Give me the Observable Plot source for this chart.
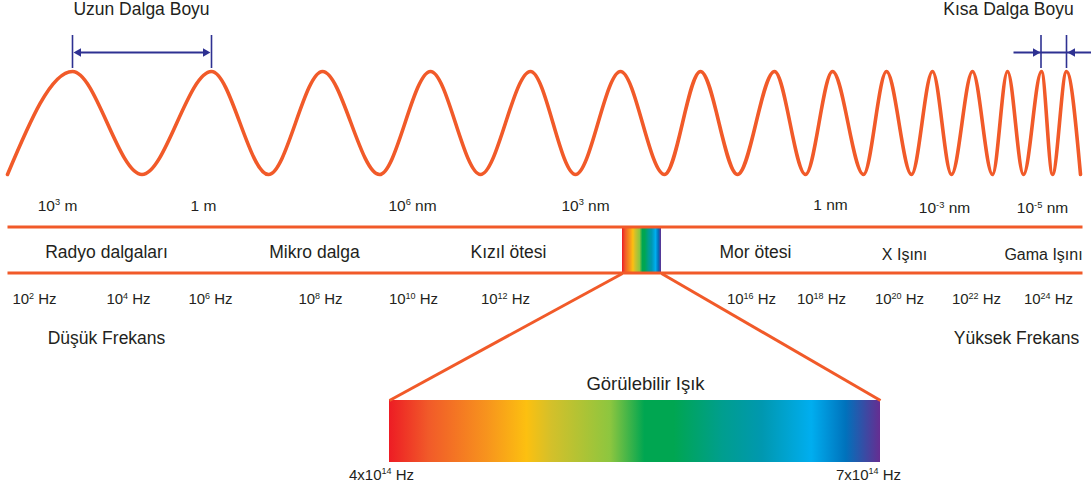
<!DOCTYPE html>
<html>
<head>
<meta charset="utf-8">
<script src="https://cdn.jsdelivr.net/npm/d3@7"></script>
<script src="https://cdn.jsdelivr.net/npm/@observablehq/plot@0.6"></script>
<style>
  html, body { margin: 0; padding: 0; background: #fff; }
  svg { display: block; }
</style>
</head>
<body>
<div id="chart"></div>
<script>
// ---------- data (diagram units) ----------
// wave extrema along the diagram (trough, crest, trough, ...)
const waveExtremaX = [7, 72, 141.5, 211, 268, 322, 379, 430, 480, 530, 575, 620, 664, 700, 737, 774, 805, 832, 863, 886, 911, 932, 951, 972, 992, 1007, 1023, 1041, 1052, 1066, 1080];
const crestY = 71, troughY = 174;

const headings = ["Uzun Dalga Boyu", "Kısa Dalga Boyu"];
const headingX = [141, 1008];

// "^" marks a superscript (rendered as a raised tspan)
const wavelengthLabels = ["10^3 m", "1 m", "10^6 nm", "10^3 nm", "1 nm", "10^-3 nm", "10^-5 nm"];
const wavelengthX = [57, 203, 412, 585, 830, 944, 1042];
const wavelengthY = [205.7, 205.2, 205.2, 205.2, 205, 208, 208];

const bandNames = ["Radyo dalgaları", "Mikro dalga", "Kızıl ötesi", "Mor ötesi", "X Işını", "Gama Işını"];
const bandX = [106, 314, 508, 755, 904, 1043];
const bandY = [251.7, 251.7, 251.7, 251.7, 254.5, 254.5];
const bandSize = [17.5, 17.5, 17.5, 17.5, 16, 16];

const freqExponents = ["2", "4", "6", "8", "10", "12", "16", "18", "20", "22", "24"];
const freqX = [34, 128, 210, 320, 413, 505, 751, 821, 899, 976, 1048];

const endLabels = ["Düşük Frekans", "Yüksek Frekans"];
const endX = [106, 1016];

const visibleTitle = "Görülebilir Işık";
const visibleEnds = ["4x10^14 Hz", "7x10^14 Hz"];
const visibleEndX = [381, 868];

const spectrumOffsets = [0, 0.08, 0.2, 0.28, 0.33, 0.45, 0.52, 0.58, 0.68, 0.76, 0.86, 0.93, 1];
const spectrumColors = ["#ed1c24", "#f15a29", "#f7941d", "#fcc010", "#d4c02a", "#8dc63f", "#00a651", "#00a651", "#009e8f", "#0098b0", "#00aeef", "#0072bc", "#662d91"];

// ---------- derived tables ----------
const ORANGE = "#f15a29", BLUE = "#2e3192", INK = "#231f20";

const wave = waveExtremaX.map((x, i) => ({x, y: i % 2 ? crestY : troughY}));
const headingData = headings.map((t, i) => ({t, x: headingX[i]}));
const wlData = wavelengthLabels.map((t, i) => ({t, x: wavelengthX[i], y: wavelengthY[i]}));
const bandData = bandNames.map((t, i) => ({t, x: bandX[i], y: bandY[i], s: bandSize[i]}));
const freqData = freqExponents.map((e, i) => ({t: "10^" + e + " Hz", x: freqX[i]}));
const endData = endLabels.map((t, i) => ({t, x: endX[i]}));
const visEndData = visibleEnds.map((t, i) => ({t, x: visibleEndX[i]}));

const markerX = [72, 211, 1040.5, 1066];
const arrowLines = [{x1: 76, x2: 207}, {x1: 1013, x2: 1090.5}];
const arrowHeads = [{x: 78, r: -90}, {x: 205, r: 90}, {x: 1035, r: 90}, {x: 1072, r: -90}];

const bands = [{x1: 7, x2: 1082, y: 226.5}, {x1: 7, x2: 1082, y: 272.5}];
const spectrumBoxes = [{x1: 622, x2: 661, y1: 227, y2: 272}, {x1: 389, x2: 880, y1: 400, y2: 462}];
const zoomLines = [{x1: 622, y1: 273, x2: 389, y2: 400}, {x1: 661, y1: 273, x2: 880, y2: 400}];

const font = "'Liberation Sans', Arial, Helvetica, sans-serif";

const svg = Plot.plot({
  width: 1091,
  height: 487,
  margin: 0,
  x: {domain: [0, 1091], range: [0, 1091], axis: null},
  y: {domain: [0, 487], range: [0, 487], axis: null},
  style: {background: "#fff", fontFamily: font, color: INK},
  marks: [
    Plot.line(wave, {x: "x", y: "y", curve: "monotone-x", stroke: ORANGE, strokeWidth: 3.6, strokeLinecap: "round"}),
    Plot.ruleX(markerX, {x: d => d, y1: 35, y2: 68, stroke: BLUE, strokeWidth: 1.6}),
    Plot.link(arrowLines, {x1: "x1", x2: "x2", y1: 52, y2: 52, stroke: BLUE, strokeWidth: 1.8}),
    Plot.dot(arrowHeads, {x: "x", y: 52, symbol: "triangle", r: 3.2, rotate: "r", fill: BLUE, stroke: null}),
    Plot.rect(spectrumBoxes, {x1: "x1", x2: "x2", y1: "y1", y2: "y2", fill: "url(#spectrum)"}),
    Plot.link(bands, {x1: "x1", x2: "x2", y1: "y", y2: "y", stroke: ORANGE, strokeWidth: 3}),
    Plot.link(zoomLines, {x1: "x1", y1: "y1", x2: "x2", y2: "y2", stroke: ORANGE, strokeWidth: 3}),
    Plot.text(headingData, {x: "x", y: 9, text: "t", fontSize: 17.5, fill: INK}),
    Plot.text(wlData, {x: "x", y: "y", text: "t", fontSize: 15.5, fill: INK}),
    Plot.text(bandData, {x: "x", y: "y", text: "t", fontSize: "s", fill: INK}),
    Plot.text(freqData, {x: "x", y: 299, text: "t", fontSize: 15, fill: INK}),
    Plot.text(endData, {x: "x", y: 338, text: "t", fontSize: 17.5, fill: INK}),
    Plot.text([visibleTitle], {x: 645, y: 384, text: d => d, fontSize: 18.5, fill: INK}),
    Plot.text(visEndData, {x: "x", y: 474.3, text: "t", fontSize: 15, fill: INK})
  ]
});

// gradient definition for the spectrum boxes
const defs = d3.select(svg).insert("defs", ":first-child");
const grad = defs.append("linearGradient").attr("id", "spectrum").attr("x1", "0").attr("x2", "1").attr("y1", "0").attr("y2", "0");
spectrumOffsets.forEach((o, i) => grad.append("stop").attr("offset", o).attr("stop-color", spectrumColors[i]));

document.getElementById("chart").appendChild(svg);

// turn "^exp" into raised, smaller tspans
d3.select(svg).selectAll("text").each(function() {
  const s = this.textContent;
  const m = /^(.*?)\^(\S+)(.*)$/.exec(s);
  if (!m) return;
  const fs = parseFloat(getComputedStyle(this).fontSize) || 15;
  const shift = 0.38 * fs;
  this.textContent = "";
  const t = d3.select(this);
  t.append("tspan").text(m[1]);
  t.append("tspan").attr("dy", -shift).attr("font-size", 0.6 * fs).text(m[2]);
  t.append("tspan").attr("dy", shift).text(m[3]);
});
</script>
</body>
</html>
